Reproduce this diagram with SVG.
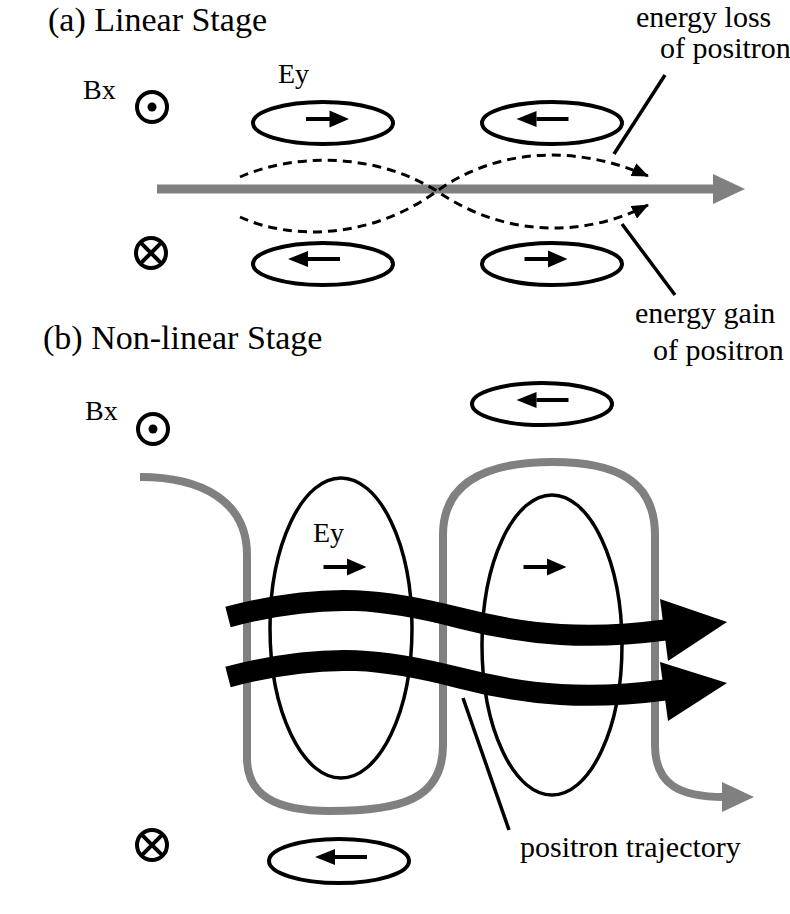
<svg xmlns="http://www.w3.org/2000/svg" xmlns:xlink="http://www.w3.org/1999/xlink" width="790" height="914" viewBox="0 0 790 914">
<style>
.ell{fill:none;stroke:#000;stroke-width:4}
.tall{fill:none;stroke:#000;stroke-width:3.5}
.ring{fill:none;stroke:#000;stroke-width:4}
.gray{fill:none;stroke:#808080;stroke-width:8}
.dash{fill:none;stroke:#000;stroke-width:3;stroke-dasharray:9 6}
.lead{stroke:#000;stroke-width:3.5}
.band{fill:none;stroke:#000;stroke-width:21}
</style>
<defs>
<marker id="dh" markerUnits="userSpaceOnUse" markerWidth="18" markerHeight="14" refX="16" refY="7" orient="auto"><path d="M0,0 L17,7 L0,14 z" fill="#000"/></marker>
<g id="arrR"><line x1="-21.5" y1="0" x2="4" y2="0" stroke="#000" stroke-width="4"/><polygon points="2,-8.5 21.5,0 2,8.5" fill="#000"/></g>
<g id="arrL"><line x1="-6" y1="0" x2="26" y2="0" stroke="#000" stroke-width="4"/><polygon points="-26,0 -6,-8 -6,8" fill="#000"/></g>
<g id="dot"><circle r="15" class="ring"/><circle r="4.5" fill="#000"/></g>
<g id="cross"><circle r="15" class="ring"/><line x1="-10.6" y1="-10.6" x2="10.6" y2="10.6" stroke="#000" stroke-width="4"/><line x1="10.6" y1="-10.6" x2="-10.6" y2="10.6" stroke="#000" stroke-width="4"/></g>
</defs>
<rect width="790" height="914" fill="#fff"/>

<!-- (a) Linear stage -->
<g id="title-a"><text font-family="Liberation Serif, Times New Roman, serif" font-size="34" fill="#000" x="48" y="31">(a) Linear Stage</text></g>
<g id="bx-a"><text font-family="Liberation Serif, Times New Roman, serif" font-size="28" fill="#000" x="83" y="99">Bx</text><use xlink:href="#dot" x="152" y="107"/></g>
<g id="bin-a"><use xlink:href="#cross" x="151" y="253"/></g>
<g id="ey-a"><text font-family="Liberation Serif, Times New Roman, serif" font-size="28" fill="#000" x="278" y="83">Ey</text></g>
<g id="ell-a-tl"><ellipse class="ell" cx="323" cy="123" rx="70" ry="21"/><use xlink:href="#arrR" x="327.5" y="119"/></g>
<g id="ell-a-tr"><ellipse class="ell" cx="552" cy="123" rx="70" ry="21"/><use xlink:href="#arrL" x="542.5" y="119"/></g>
<g id="ell-a-bl"><ellipse class="ell" cx="323" cy="264" rx="70" ry="21"/><use xlink:href="#arrL" x="314" y="259"/></g>
<g id="ell-a-br"><ellipse class="ell" cx="552" cy="264" rx="70" ry="21"/><use xlink:href="#arrR" x="546" y="259"/></g>
<g id="connectors-a">
<line x1="157" y1="189" x2="716" y2="189" stroke="#808080" stroke-width="9"/>
<polygon points="713,174 745,189 713,204" fill="#808080"/>
<path class="dash" d="M240,177 C290,155 370,150 437,191 C500,235 580,240 648,205" marker-end="url(#dh)"/>
<path class="dash" d="M240,217 C290,240 370,240 437,191 C500,146 580,146 648,176" marker-end="url(#dh)"/>
<line class="lead" x1="665" y1="75" x2="614" y2="154"/>
<line class="lead" x1="622" y1="224" x2="675" y2="295"/>
</g>
<g id="lbl-loss"><text font-family="Liberation Serif, Times New Roman, serif" font-size="30" fill="#000" x="636" y="27">energy loss</text><text font-family="Liberation Serif, Times New Roman, serif" font-size="30" fill="#000" x="660" y="58">of positron</text></g>
<g id="lbl-gain"><text font-family="Liberation Serif, Times New Roman, serif" font-size="30" fill="#000" x="635" y="323">energy gain</text><text font-family="Liberation Serif, Times New Roman, serif" font-size="30" fill="#000" x="653" y="360">of positron</text></g>

<!-- (b) Non-linear stage -->
<g id="title-b"><text font-family="Liberation Serif, Times New Roman, serif" font-size="34" fill="#000" x="43" y="349">(b) Non-linear Stage</text></g>
<g id="bx-b"><text font-family="Liberation Serif, Times New Roman, serif" font-size="28" fill="#000" x="85" y="420">Bx</text><use xlink:href="#dot" x="153" y="429"/></g>
<g id="bin-b"><use xlink:href="#cross" x="152" y="845"/></g>
<g id="ell-b-top"><ellipse class="ell" cx="542" cy="404" rx="70" ry="21"/><use xlink:href="#arrL" x="542.5" y="400"/></g>
<g id="ell-b-bot"><ellipse class="ell" cx="339" cy="861" rx="70" ry="22"/><use xlink:href="#arrL" x="341" y="857"/></g>
<g id="trajectory"><path class="gray" d="M140,477 C200,477 247,500 247,555 L247,758 C247,795 275,811 330,811 C400,811 443,800 443,745 L443,535 C443,480 490,462 553,462 C615,462 655,480 655,535 L655,745 C655,785 680,797 724,797"/><polygon points="722,782 754,797 722,812" fill="#808080"/></g>
<g id="ell-b-left"><ellipse class="tall" cx="341" cy="628" rx="71" ry="150"/><text font-family="Liberation Serif, Times New Roman, serif" font-size="28" fill="#000" x="313" y="542">Ey</text><use xlink:href="#arrR" x="345" y="567"/></g>
<g id="ell-b-right"><ellipse class="tall" cx="552" cy="645" rx="70" ry="150"/><use xlink:href="#arrR" x="545" y="567"/></g>
<g id="connectors-b">
<path class="band" d="M228,617 C330,590 390,600 460,618 S590,640 665,630"/>
<polygon points="660,599 727,622 668,661" fill="#000"/>
<path class="band" d="M228,677 C330,650 390,660 460,678 S590,700 665,690"/>
<polygon points="660,662 727,683 668,721" fill="#000"/>
<line class="lead" x1="463" y1="698" x2="509" y2="830"/>
</g>
<g id="lbl-traj"><text font-family="Liberation Serif, Times New Roman, serif" font-size="30" fill="#000" x="520" y="857">positron trajectory</text></g>
</svg>
